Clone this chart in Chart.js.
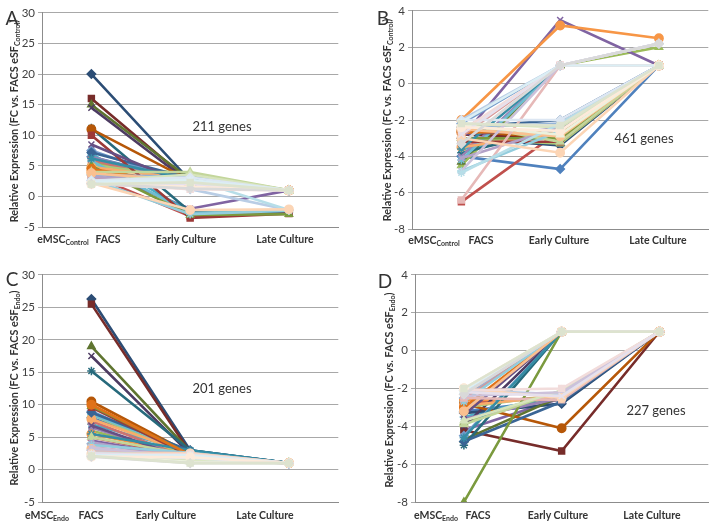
<!DOCTYPE html>
<html lang="en">
  <head>
    <meta charset="utf-8" />
    <script src="https://cdn.jsdelivr.net/npm/chart.js"></script>
    <style>
      body {
        margin: 0;
        background: #fff;
        font-family: Lato, "Open Sans", sans-serif;
        color: #404040;
      }
      #page {
        position: relative;
        width: 722px;
        height: 523px;
        overflow: hidden;
      }
      canvas {
        position: absolute;
      }
      .txt {
        position: absolute;
        white-space: nowrap;
        transform: translate(-50%, -50%);
      }
      .stage {
        font-weight: bold;
        font-size: 10.5px;
        color: #333;
      }
      .stage sub {
        font-size: 7px;
        vertical-align: -2px;
      }
      .ytitle {
        font-weight: bold;
        font-size: 10.8px;
        color: #333;
        transform: translate(-50%, -50%) rotate(-90deg);
      }
      .ytitle sub {
        font-size: 7px;
        vertical-align: -2px;
      }
      .genes {
        font-size: 13px;
        color: #333;
      }
      .letter {
        font-size: 19px;
        color: #333;
      }
    </style>
    <title>Relative expression panels</title>
  </head>

  <body>
    <div id="page">
      <canvas id="chartA" width="344" height="234"></canvas>
      <canvas id="chartB" width="344" height="238"></canvas>
      <canvas id="chartC" width="344" height="247"></canvas>
      <canvas id="chartD" width="341" height="247"></canvas>
    </div>

    <script>
      // categories on the x axis (points sit on the last three)
      const stages = ["FACS", "Early Culture", "Late Culture"];
      const baselines = ["Control", "Control", "Endo", "Endo"];
      const geneCounts = ["211 genes", "461 genes", "201 genes", "227 genes"];
      const panelLetters = ["A", "B", "C", "D"];

      // y axis ranges per panel
      const yRangeA = [-5, 30, 5];
      const yRangeB = [-8, 4, 2];
      const yRangeC = [-5, 30, 5];
      const yRangeD = [-8, 4, 2];

      // one row per gene: [FACS, Early Culture, Late Culture]
      const genesA = [
        [6.5, 2.5, 1], [3.5, -3.2, -2.7], [5.5, 3.6, 1], [4.5, -2.0, 1],
        [7, -2.6, -2.4], [4, 2.4, 1], [20, 2.6, 1], [16, 2.4, 1],
        [15, 2.8, 1], [14.5, 2.2, 1], [11.2, -2.5, -2.6], [11, 2.6, 1],
        [7.5, 2.0, 1], [6, 1.8, 1], [5.2, 3.0, 1], [6.5, 2.2, 1],
        [5.8, -2.7, -2.2], [4.8, 2.8, 1], [7.2, 3.0, 1], [10, -3.5, -2.8],
        [5, -3.0, -2.9], [8.5, 1.8, 1], [6.2, 2.8, 1], [4.5, 2.0, 1],
        [3.5, 3.2, 1], [3, 2.0, 1], [4, 4.0, 1], [3.2, 2.4, 1],
        [2.8, -2.9, -2.3], [3.8, 2.6, 1], [2.6, 1.2, -2.2], [2.4, 2.2, 1],
        [2.5, 3.6, 1], [2.2, 2.6, 1], [2.3, 2.9, -2.2], [2.2, -2.2, -2.1],
        [2.6, 3.1, 1], [2.1, 1.2, 1], [2.3, 2.4, 1], [2.0, 2.0, 1],
        [2.4, 2.7, 1], [2.0, 1.6, 1], [2.1, 1.3, 1], [2.0, 2.3, 1],
      ];

      const genesB = [
        [-4.0, -4.7, 1], [-6.5, -2.6, 1], [-4.5, 1, 2.0], [-3.0, 3.5, 1],
        [-3.6, -2.8, 1], [-2.0, 3.2, 2.5], [-3.0, -3.4, 1], [-2.8, -3.0, 1],
        [-4.3, 1, 1], [-3.2, -2.9, 1], [-3.8, -2.5, 1], [-2.6, -3.0, 1],
        [-2.2, 1, 1], [-3.4, -2.8, 1], [-3.0, -3.3, 1], [-4.0, 1, 1],
        [-4.2, 1, 1], [-3.5, -2.7, 1], [-2.4, -2.0, 1], [-3.2, -3.2, 1],
        [-3.0, -3.0, 1], [-2.8, -2.5, 1], [-3.6, 1, 1], [-2.7, -2.6, 1],
        [-2.4, -2.2, 1], [-2.9, 1, 1], [-2.2, -3.2, 1], [-4.1, -2.4, 1],
        [-4.8, -2.6, 1], [-2.5, -2.9, 1], [-2.0, 1, 2.2], [-6.4, 1, 1],
        [-2.2, -2.4, 1], [-4.8, 1, 2.2], [-4.9, -2.2, 1], [-3.0, -3.8, 1],
        [-2.0, -2.0, 1], [-2.6, 1, 1], [-2.3, -2.8, 1], [-2.8, 1, 2.2],
        [-2.1, 1, 1], [-2.4, -2.6, 1], [-3.3, 1, 2.2], [-2.2, -2.3, 1],
      ];

      const genesC = [
        [8, 2.5, 1], [5, 2.0, 1], [6, 2.2, 1], [4.5, 1.8, 1],
        [7, 2.8, 1], [5.5, 2.4, 1], [26.3, 3.0, 1], [25.5, 2.6, 1],
        [19, 2.8, 1], [17.5, 2.4, 1], [15.2, 3.0, 1], [10.5, 2.5, 1],
        [9, 2.2, 1], [7.5, 1.6, 1], [8.5, 2.0, 1], [6.5, 1.8, 1],
        [8.5, 2.8, 1], [7.8, 2.4, 1], [8.8, 2.9, 1], [9.6, 2.1, 1],
        [9.8, 2.4, 1], [6.8, 1.5, 1], [5.5, 3.0, 1], [10, 2.3, 1],
        [4, 2.2, 1], [3.5, 1.8, 1], [5, 2.3, 1], [4.2, 1.6, 1],
        [3.8, 2.6, 1], [3.2, 2.1, 1], [3, 2.2, 1], [2.8, 2.5, 1],
        [2.5, 1.5, 1], [3.4, 1.9, 1], [2.6, 2.3, 1], [2.4, 2.5, 1],
        [2.2, 1.8, 1], [2.3, 2.4, 1], [2.1, 1.2, 1], [2.5, 2.0, 1],
        [2.2, 2.2, 1], [2.0, 1.9, 1], [2.0, 1.0, 1], [2.1, 1.0, 1],
      ];

      const genesD = [
        [-3.2, -2.6, 1], [-2.8, -2.4, 1], [-3.8, -2.2, 1], [-4.2, -2.5, 1],
        [-3.5, -2.3, 1], [-2.6, -2.6, 1], [-3.3, -2.8, 1], [-4.2, -5.3, 1],
        [-4.7, -2.4, 1], [-4.0, 1, 1], [-5.0, 1, 1], [-2.8, -4.1, 1],
        [-4.5, 1, 1], [-2.4, 1, 1], [-3.0, -2.3, 1], [-3.6, -2.5, 1],
        [-3.1, 1, 1], [-2.9, -2.4, 1], [-4.8, -2.7, 1], [-2.3, 1, 1],
        [-8.0, 1, 1], [-3.4, 1, 1], [-4.6, 1, 1], [-3.0, 1, 1],
        [-2.5, 1, 1], [-2.6, 1, 1], [-3.9, -2.1, 1], [-2.2, 1, 1],
        [-2.7, 1, 1], [-3.2, 1, 1], [-2.1, -2.3, 1], [-2.5, -2.6, 1],
        [-3.7, -2.1, 1], [-2.4, -2.2, 1], [-2.2, 1, 1], [-2.0, -2.5, 1],
        [-2.3, 1, 1], [-2.1, -2.0, 1], [-2.0, 1, 1], [-2.2, -2.4, 1],
        [-2.1, 1, 1], [-2.0, 1, 1], [-2.3, 1, 1], [-2.0, 1, 1],
      ];

      // office style series colours and marker cycle
      const palette = [
        "#4F81BD", "#C0504D", "#9BBB59", "#8064A2", "#4BACC6", "#F79646",
        "#2C4D75", "#772C2A", "#5F7530", "#4D3B62", "#276A7C", "#B65708",
        "#729ACA", "#CD7371", "#AFC97A", "#9983B5", "#6FBDD1", "#F9AB6B",
        "#3A6595", "#9C3A38", "#7B9A3E", "#664F83", "#358DA5", "#E07219",
        "#95B3D7", "#D99694", "#C3D69B", "#B2A1C7", "#93CDDD", "#FAC090",
        "#B9CDE5", "#E6B9B8", "#D7E4BD", "#CCC1DA", "#B7DEE8", "#FCD5B5",
        "#DCE6F2", "#F2DCDB", "#EBF1DE", "#E6E0EC", "#DBEEF4", "#FDEADA",
        "#D9D9D9", "#DDE3CF",
      ];
      const markers = ["rectRot", "rect", "triangle", "crossRot", "star", "circle"];

      function makeChart(id, left, top, genes, range) {
        const canvas = document.getElementById(id);
        canvas.style.left = left + "px";
        canvas.style.top = top + "px";

        // later genes are drawn on top, as in the original spreadsheet
        const datasets = genes.map((g, i) => ({
          data: g,
          order: -i,
          borderColor: palette[i % palette.length],
          backgroundColor: palette[i % palette.length],
          borderWidth: 2.6,
          pointStyle: markers[i % markers.length],
          pointRadius: 4.2,
          pointBorderWidth: 1.5,
          tension: 0,
        }));

        return new Chart(canvas, {
          type: "line",
          data: { labels: stages, datasets: datasets },
          options: {
            responsive: false,
            animation: false,
            events: [],
            layout: { padding: { top: 8, bottom: 8, left: 0, right: 2 } },
            plugins: { legend: { display: false }, tooltip: { enabled: false } },
            scales: {
              x: {
                offset: true,
                grid: { display: false },
                border: { color: "#8c8c8c" },
                ticks: { display: false },
                afterFit: (s) => {
                  s.height = 0;
                },
              },
              y: {
                min: range[0],
                max: range[1],
                ticks: {
                  stepSize: range[2],
                  color: "#404040",
                  padding: 3,
                  font: { family: "Lato", size: 11.5 },
                },
                grid: { color: "#a8a8a8", tickLength: 4 },
                border: { color: "#8c8c8c" },
                afterFit: (s) => {
                  s.width = 42;
                },
              },
            },
          },
        });
      }

      makeChart("chartA", 0, 3, genesA, yRangeA);
      makeChart("chartB", 370, 1, genesB, yRangeB);
      makeChart("chartC", 0, 265, genesC, yRangeC);
      makeChart("chartD", 373, 265, genesD, yRangeD);

      // text that sits around the plots
      const page = document.getElementById("page");
      function addText(cls, html, x, y) {
        const d = document.createElement("div");
        d.className = "txt " + cls;
        d.innerHTML = html;
        d.style.left = x + "px";
        d.style.top = y + "px";
        page.appendChild(d);
      }

      const stageRows = [
        { y: 239, xs: [63, 108, 186, 285] },
        { y: 240, xs: [434, 481, 559, 658] },
        { y: 515, xs: [47, 91, 166, 265] },
        { y: 515, xs: [436, 478, 558, 652] },
      ];
      stageRows.forEach((row, p) => {
        const names = ["eMSC<sub>" + baselines[p] + "</sub>"].concat(stages);
        names.forEach((n, k) => addText("stage", n, row.xs[k], row.y));
      });

      const titlePos = [[14, 121], [387, 120], [14, 388], [389, 390]];
      titlePos.forEach((pos, p) => {
        addText(
          "ytitle",
          "Relative Expression (FC vs. FACS eSF<sub>" + baselines[p] + "</sub>)",
          pos[0],
          pos[1]
        );
      });

      const genePos = [[222, 126], [644, 138], [222, 388], [656, 410]];
      genePos.forEach((pos, p) => addText("genes", geneCounts[p], pos[0], pos[1]));

      const letterPos = [[12, 17], [383, 17], [12, 278], [385, 280]];
      letterPos.forEach((pos, p) => addText("letter", panelLetters[p], pos[0], pos[1]));
    </script>
  </body>
</html>
